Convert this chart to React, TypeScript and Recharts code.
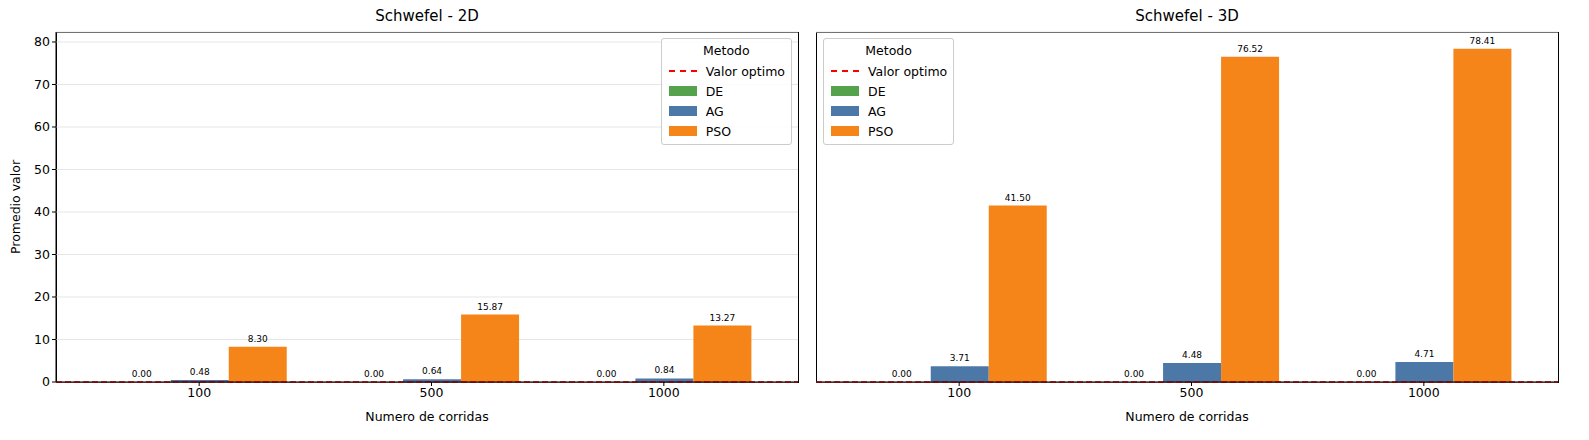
import React from "react";
import {
  Bar,
  CartesianGrid,
  ComposedChart,
  LabelList,
  ReferenceLine,
  XAxis,
  YAxis
} from "recharts";

const categories = ["100", "500", "1000"];
const de2D = [0, 0, 0];
const ag2D = [0.48, 0.64, 0.84];
const pso2D = [8.3, 15.87, 13.27];
const de3D = [0, 0, 0];
const ag3D = [3.71, 4.48, 4.71];
const pso3D = [41.5, 76.52, 78.41];
const yTicks = [0, 10, 20, 30, 40, 50, 60, 70, 80];

const colors = { DE: "#54a24b", AG: "#4c78a8", PSO: "#f58518" };
const font = "DejaVu Sans, sans-serif";

function build(de: number[], ag: number[], pso: number[]) {
  return categories.map((c, i) => ({ cat: c, DE: de[i], AG: ag[i], PSO: pso[i] }));
}

function Legend({ style }: { style: React.CSSProperties }) {
  const row = (sw: React.ReactNode, label: string) => (
    <div style={{ display: "flex", alignItems: "center", height: 20 }}>
      <div style={{ width: 30, display: "flex", justifyContent: "center", marginRight: 8 }}>{sw}</div>
      {label}
    </div>
  );
  return (
    <div
      style={{
        position: "absolute",
        background: "rgba(255,255,255,0.85)",
        border: "1px solid #ccc",
        borderRadius: 3,
        padding: "2px 6px 3px 6px",
        fontSize: 12.5,
        fontFamily: font,
        ...style
      }}
    >
      <div style={{ textAlign: "center", height: 20, lineHeight: "20px" }}>Metodo</div>
      {row(<div style={{ width: 28, borderTop: "2px dashed red" }} />, "Valor optimo")}
      {row(<div style={{ width: 28, height: 10, background: colors.DE }} />, "DE")}
      {row(<div style={{ width: 28, height: 10, background: colors.AG }} />, "AG")}
      {row(<div style={{ width: 28, height: 10, background: colors.PSO }} />, "PSO")}
    </div>
  );
}

const txt = (x: number, y: number, v: number) => (
  <text x={x} y={y} textAnchor="middle" fontSize={9} fill="#000">
    {v.toFixed(2)}
  </text>
);

// zero-height DE bars get no label of their own, so the AG label draws it beside
const agLabel = (de: number[]) => (props: any) => {
  const { x, y, width, height, value, index } = props;
  const cx = Number(x) + Number(width) / 2;
  const base = Number(y) + Number(height);
  return (
    <g>
      {txt(cx, Number(y) - 5, Number(value))}
      {txt(cx - Number(width), base - 5, de[index])}
    </g>
  );
};

const plainLabel = (props: any) => {
  const { x, y, width, value } = props;
  return txt(Number(x) + Number(width) / 2, Number(y) - 5, Number(value));
};

function Panel({ data, de, width, left, showY }: { data: any[]; de: number[]; width: number; left: number; showY: boolean }) {
  return (
    <ComposedChart
      width={width}
      height={440}
      data={data}
      margin={{ top: 32, right: left === 0 ? 2 : 31, bottom: 13, left: 16 }}
      barCategoryGap="12.8%"
      barGap={0}
      style={{ position: "absolute", left, top: 0, fontFamily: font }}
    >
      <CartesianGrid vertical={false} stroke="#e6e6e6" yAxisId="l" />
      <XAxis
        dataKey="cat"
        padding={{ left: 27, right: 18 }}
        height={45}
        stroke="#000"
        tick={{ fill: "#000", fontSize: 12.5 }}
        tickSize={4}
        label={{ value: "Numero de corridas", position: "insideBottom", offset: 6, fill: "#000", fontSize: 12.5 }}
      />
      <YAxis
        yAxisId="l"
        domain={[0, 82.35]}
        ticks={yTicks}
        allowDataOverflow
        width={showY ? 40 : 0}
        stroke="#000"
        tickSize={4}
        tick={showY ? { fill: "#000", fontSize: 12.5 } : false}
        label={
          showY
            ? { value: "Promedio valor", angle: -90, position: "insideLeft", offset: 0, fill: "#000", fontSize: 12.5, style: { textAnchor: "middle" } }
            : undefined
        }
      />
      <Bar yAxisId="l" dataKey="DE" fill={colors.DE} isAnimationActive={false} />
      <Bar yAxisId="l" dataKey="AG" fill={colors.AG} isAnimationActive={false}>
        <LabelList dataKey="AG" content={agLabel(de)} />
      </Bar>
      <Bar yAxisId="l" dataKey="PSO" fill={colors.PSO} isAnimationActive={false}>
        <LabelList dataKey="PSO" content={plainLabel} />
      </Bar>
      <ReferenceLine yAxisId="l" y={0} stroke="red" strokeDasharray="6 3" strokeWidth={1.5} />
    </ComposedChart>
  );
}

const frame: React.CSSProperties = {
  position: "absolute",
  top: 32,
  width: 741,
  height: 349,
  border: "1px solid #000",
  pointerEvents: "none"
};

export default function App() {
  return (
    <div style={{ position: "absolute", left: 0, top: 0, width: 1589, height: 440, background: "#fff", fontFamily: font }}>
      <div style={{ ...frame, left: 56 }} />
      <div style={{ ...frame, left: 816 }} />
      <div style={{ position: "absolute", left: 56, width: 742, top: 7, textAlign: "center", fontSize: 15 }}>Schwefel - 2D</div>
      <div style={{ position: "absolute", left: 816, width: 742, top: 7, textAlign: "center", fontSize: 15 }}>Schwefel - 3D</div>
      <Panel data={build(de2D, ag2D, pso2D)} de={de2D} width={800} left={0} showY />
      <Panel data={build(de3D, ag3D, pso3D)} de={de3D} width={789} left={800} showY={false} />
      <Legend style={{ right: 1589 - 792, top: 38 }} />
      <Legend style={{ left: 823, top: 38 }} />
    </div>
  );
}
